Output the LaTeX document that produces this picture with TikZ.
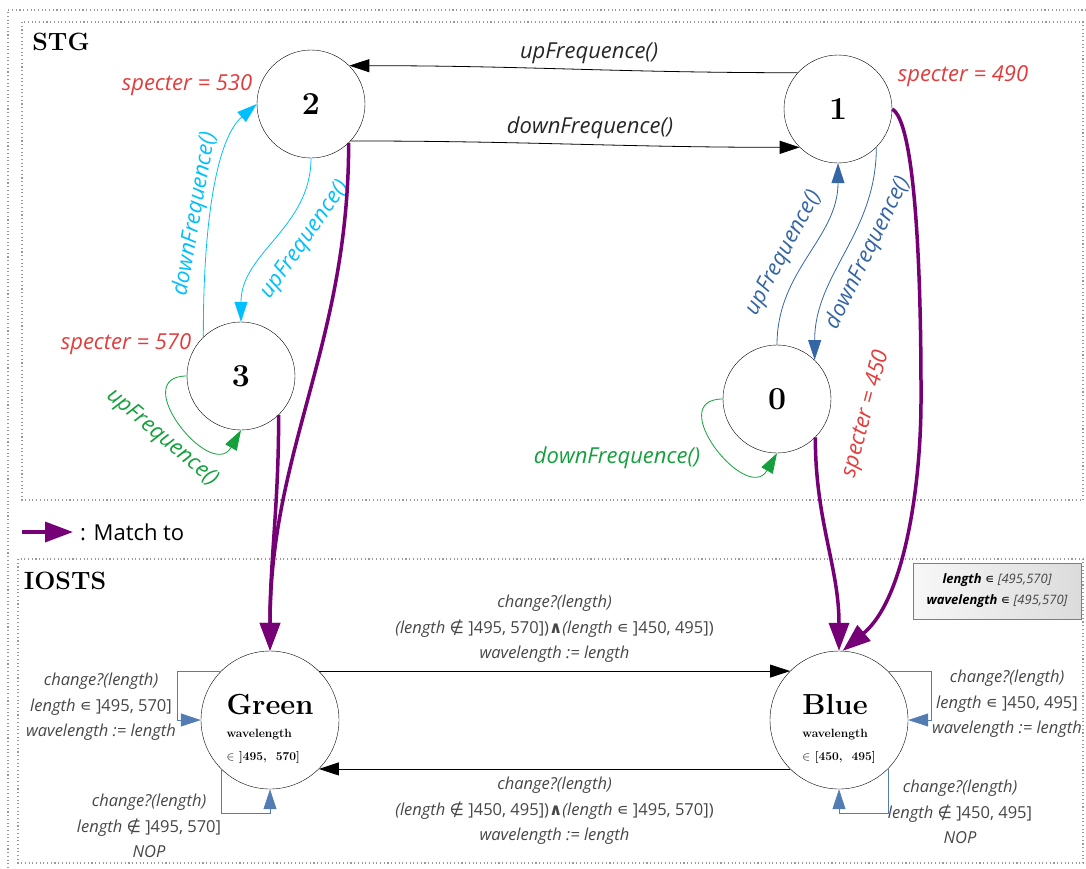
\documentclass[tikz,border=0pt]{standalone}
\usepackage{fontspec}
\setsansfont{Open Sans}
\newfontfamily\symfont{DejaVu Sans}
\usetikzlibrary{arrows,arrows.meta,shapes,positioning}
\definecolor{skyc}{RGB}{0,191,255}
\definecolor{bluec}{RGB}{52,101,164}
\definecolor{greenc}{RGB}{20,160,60}
\definecolor{redc}{RGB}{225,60,60}
\definecolor{purplec}{RGB}{118,0,118}
\definecolor{greyc}{RGB}{70,70,70}
\newcommand{\mIn}{{\symfont\upshape ∊}}
\newcommand{\mNotIn}{{\symfont\upshape ∉}}
\newcommand{\mAnd}{{\symfont\bfseries\upshape ∧}}
\tikzstyle{dotbox}=[draw,gray!80,line width=1.1pt,dash pattern=on 1.1pt off 2.6pt]
\tikzstyle{heading}=[font=\fontsize{25}{25}\selectfont\bfseries,inner sep=0pt]
\tikzstyle{state}=[circle,draw,minimum size=108pt,inner sep=0pt,font=\fontsize{32}{32}\selectfont\bfseries]
\tikzstyle{iostate}=[circle,draw,minimum size=138pt,inner sep=0pt]
\tikzstyle{iotext}=[align=left,inner sep=0pt,font=\fontsize{12}{23}\selectfont\bfseries]
\tikzstyle{trans}=[draw,line width=0.8pt,-{Triangle[length=20pt,width=13pt]}]
\tikzstyle{ioloop}=[draw,bluec!85,line width=0.8pt,-{Triangle[length=20pt,width=13pt]}]
\tikzstyle{matcharrow}=[draw,purplec,line width=3.5pt,-{Triangle[length=28pt,width=20pt]}]
\tikzstyle{lab}=[font=\sffamily\itshape\fontsize{22}{22}\selectfont,inner sep=0pt]
\tikzstyle{speclab}=[lab,redc]
\tikzstyle{iolab}=[font=\sffamily\fontsize{16.5}{25.5}\selectfont,greyc,align=center,inner sep=0pt]
\tikzstyle{infobox}=[draw=bluec!80,line width=0.8pt,left color=gray!6,right color=gray!28,minimum width=168pt,minimum height=56pt,align=center,font=\sffamily\fontsize{13}{21}\selectfont]

\begin{document}
\begin{tikzpicture}[x=1pt,y=1pt]
    \useasboundingbox (0,0) rectangle (1086,-868);
    % Dotted frames round the two parts
    \draw[dotbox] (8,-868) -- (8,-10) -- (1086,-10);
    \draw[dotbox] (22,-22) rectangle (1083,-500);
    \draw[dotbox] (18,-559) rectangle (1083,-863);
    \node[heading] (stg) at (61,-42) {STG};
    \node[heading] (iosts) at (65,-581) {IOSTS};

    % First we draw the states of the STG
    \foreach \pos/\name/\txt in {{(777,-399)/S0/0}, {(838,-109)/S1/1}, {(311,-104)/S2/2}, {(241,-376)/S3/3}}
        \node[state] (\name) at \pos {\txt};

    % Then the transitions between them
    \draw[trans] (S1.138) to[out=180,in=0] (S2.45);
    \draw[trans] (S2.-43) to[out=0,in=180] (S1.225);
    \draw[trans,skyc] (S2.south) to[out=-90,in=90] (S3.north);
    \draw[trans,skyc] (S3.134) .. controls (203,-230) and (215,-140) .. (S2.west);
    \draw[trans,bluec] (S0.north) to[out=90,in=-90] (S1.south);
    \draw[trans,bluec] (S1.-45) to[out=-90,in=90] (S0.46);
    \draw[trans,greenc] (S3.west) to[out=180,in=240,looseness=2] (S3.south);
    \draw[trans,greenc] (S0.west) to[out=180,in=240,looseness=2] (S0.south);

    % Labels of the transitions
    \node[lab,black!85] (l12) at (589,-53) {upFrequence()};
    \node[lab,black!85] (l21) at (590,-128) {downFrequence()};
    \node[lab,skyc,rotate=55] (l23) at (305,-240) {upFrequence()};
    \node[lab,skyc,rotate=80] (l32) at (195,-214) {downFrequence()};
    \node[lab,greenc,rotate=-40] (l33) at (162,-438) {upFrequence()};
    \node[lab,bluec,rotate=62] (l01) at (784,-253) {upFrequence()};
    \node[lab,bluec,rotate=64] (l10) at (868,-253) {downFrequence()};
    \node[lab,greenc] (l00) at (617,-458) {downFrequence()};
    \node[speclab] (sp2) at (187,-85) {specter = 530};
    \node[speclab] (sp1) at (963,-76) {specter = 490};
    \node[speclab] (sp3) at (126,-344) {specter = 570};
    \node[speclab,rotate=75] (sp0) at (866,-414) {specter = 450};

    % The IOSTS states
    \node[iostate] (Green) at (270,-720) {};
    \node[iostate] (Blue) at (839,-720) {};
    \node[iotext] (greentxt) at ([yshift=-9pt]Green.center) {{\fontsize{29}{29}\selectfont Green}\\ wavelength\\ $\in$\ ]495,\ \ 570]};
    \node[iotext] (bluetxt) at ([yshift=-9pt]Blue.center) {{\fontsize{29}{29}\selectfont Blue}\\ wavelength\\ $\in$\ [450,\ \ 495]};

    \draw[trans] (Green.45) -- node[iolab,above=8pt] (gb) {\textit{change?(length)}\\ \textit{(length} \mNotIn\ ]495, 570])\mAnd\textit{(length} \mIn\ ]450, 495])\\ \textit{wavelength := length}} (Blue.135);
    \draw[trans] (Blue.225) -- node[iolab,below=8pt] (bg) {\textit{change?(length)}\\ \textit{(length} \mNotIn\ ]450, 495])\mAnd\textit{(length} \mIn\ ]495, 570])\\ \textit{wavelength := length}} (Green.-45);

    % Self loops of the IOSTS
    \draw[ioloop] (Green.135) -- ++(-44,0) |- (Green.west);
    \draw[ioloop] (Green.225) -- ++(0,-44) -| (Green.south);
    \draw[ioloop] (Blue.45) -- ++(43,0) |- (Blue.east);
    \draw[ioloop] (Blue.-45) -- ++(0,-44) -| (Blue.south);
    \node[iolab] (gl1) at (101,-707) {\textit{change?(length)}\\ \textit{length} \mIn\ ]495, 570]\\ \textit{wavelength := length}};
    \node[iolab] (gl2) at (149,-826) {\textit{change?(length)}\\ \textit{length} \mNotIn\ ]495, 570]\\ \textit{NOP}};
    \node[iolab] (bl1) at (1007,-704) {\textit{change?(length)}\\ \textit{length} \mIn\ ]450, 495]\\ \textit{wavelength := length}};
    \node[iolab] (bl2) at (960,-812) {\textit{change?(length)}\\ \textit{length} \mNotIn\ ]450, 495]\\ \textit{NOP}};

    \node[infobox] (info) at (997,-591) {\textbf{\textit{length}} \mIn\ \textit{\color{greyc}[495,570]}\\ \textbf{\textit{wavelength}} \mIn\ \textit{\color{greyc}[495,570]}};

    % Match arrows from the STG to the IOSTS
    \coordinate (m4) at (921,-400);
    \draw[matcharrow] (S2.-46) to[out=-90,in=90] (Green.north);
    \draw[matcharrow] (S3.-46) to[out=-90,in=90] (Green.north);
    \draw[matcharrow] (S0.-45) to[out=-90,in=90] (Blue.north);
    \draw[matcharrow] (S1.east) to[out=-30,in=90,looseness=0.3] (m4) to[out=-90,in=40,looseness=0.8] (Blue.87);

    % Legend
    \coordinate (mleg) at (22,-532);
    \node[font=\sffamily\fontsize{22}{22}\selectfont,anchor=west,inner sep=0pt] (match) at (80,-532) {: Match to};
    \draw[matcharrow] (mleg) -- ([xshift=-7pt]match.west);
\end{tikzpicture}
\end{document}
